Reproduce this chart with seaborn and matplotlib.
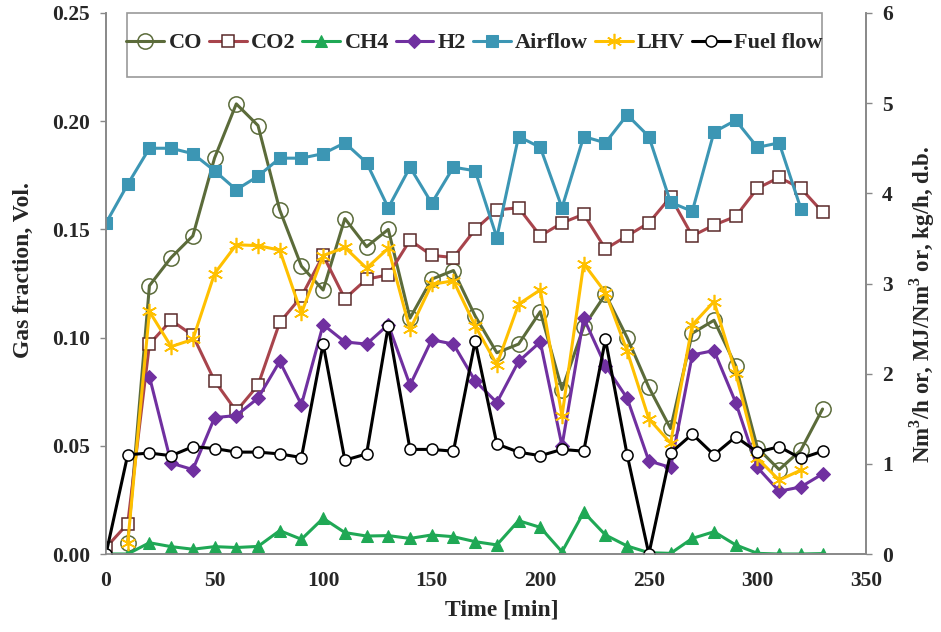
import numpy as np
import pandas as pd
import matplotlib
matplotlib.use("Agg")
import matplotlib.pyplot as plt
from matplotlib.patches import Rectangle
import seaborn as sns

nan = np.nan
time = list(range(0, 340, 10))

co = [nan, 0.005, 0.124, 0.137, 0.147, 0.183, 0.208, 0.198, 0.159, 0.133,
      0.122, 0.155, 0.142, 0.150, 0.109, 0.127, 0.131, 0.110, 0.093, 0.097,
      0.112, 0.076, 0.105, 0.120, 0.100, 0.077, 0.058, 0.102, 0.108, 0.087,
      0.049, 0.039, 0.048, 0.067]
co2 = [0.003, 0.014, 0.097, 0.108, 0.101, 0.080, 0.066, 0.078, 0.107, 0.119,
       0.138, 0.118, 0.127, 0.129, 0.145, 0.138, 0.137, 0.150, 0.159, 0.160,
       0.147, 0.153, 0.157, 0.141, 0.147, 0.153, 0.165, 0.147, 0.152, 0.156,
       0.169, 0.174, 0.169, 0.158]
ch4 = [0.000, 0.000, 0.0052, 0.0034, 0.0022, 0.0034, 0.0030, 0.0035, 0.0108, 0.0068,
       0.0165, 0.0099, 0.0083, 0.0085, 0.0072, 0.0088, 0.0080, 0.0057, 0.0042, 0.0154,
       0.0123, 0.0010, 0.0193, 0.0088, 0.0037, 0.0006, 0.0003, 0.0072, 0.0103, 0.0042,
       0.0003, 0.0000, 0.0000, 0.0002]
h2 = [nan, nan, 0.082, 0.042, 0.039, 0.063, 0.064, 0.072, 0.089, 0.069,
      0.106, 0.098, 0.097, 0.106, 0.078, 0.099, 0.097, 0.080, 0.070, 0.089,
      0.098, 0.050, 0.109, 0.087, 0.072, 0.043, 0.040, 0.092, 0.094, 0.070,
      0.040, 0.029, 0.031, 0.037]
airflow = [3.67, 4.10, 4.50, 4.50, 4.44, 4.25, 4.04, 4.19, 4.39, 4.39,
           4.44, 4.56, 4.34, 3.84, 4.29, 3.89, 4.29, 4.25, 3.51, 4.63,
           4.51, 3.84, 4.63, 4.56, 4.87, 4.63, 3.90, 3.80, 4.68, 4.81,
           4.51, 4.56, 3.83, nan]
lhv = [nan, 0.12, 2.69, 2.30, 2.38, 3.11, 3.43, 3.42, 3.37, 2.67,
       3.31, 3.40, 3.17, 3.39, 2.49, 2.99, 3.03, 2.53, 2.10, 2.77,
       2.93, 1.53, 3.22, 2.90, 2.25, 1.50, 1.23, 2.54, 2.80, 2.01,
       1.06, 0.82, 0.93, nan]
fuel = [0.00, 1.10, 1.12, 1.09, 1.19, 1.17, 1.13, 1.13, 1.11, 1.07,
        2.33, 1.04, 1.11, 2.53, 1.16, 1.16, 1.14, 2.36, 1.22, 1.13,
        1.09, 1.16, 1.14, 2.38, 1.10, 0.00, 1.12, 1.33, 1.10, 1.30,
        1.13, 1.19, 1.06, 1.14]

df = pd.DataFrame({"Time": time, "CO": co, "CO2": co2, "CH4": ch4, "H2": h2,
                   "Airflow": airflow, "LHV": lhv, "Fuel flow": fuel})

sns.set_theme(style="white")
plt.rcParams["font.family"] = ["Liberation Serif", "DejaVu Serif"]
plt.rcParams["font.weight"] = "bold"
plt.rcParams["mathtext.fontset"] = "custom"
plt.rcParams["mathtext.rm"] = "Liberation Serif:bold"
plt.rcParams["mathtext.bf"] = "Liberation Serif:bold"

fig = plt.figure(figsize=(9.41, 6.32), dpi=100)
ax = fig.add_axes([106 / 941, 1 - 554 / 632, 760 / 941, 541 / 632])
ax2 = ax.twinx()

lw = 2.2
left_specs = [
    ("CO", dict(color="#5b6b3a", marker="o", markersize=11, markerfacecolor="none",
                markeredgecolor="#5b6b3a", markeredgewidth=1.1)),
    ("CO2", dict(color="#a8444c", marker="s", markersize=8, markerfacecolor="white",
                 markeredgecolor="#5a2a2a", markeredgewidth=1.1)),
    ("CH4", dict(color="#1fa855", marker="^", markersize=8, markerfacecolor="#1fa855",
                 markeredgecolor="#1fa855")),
    ("H2", dict(color="#7030a0", marker="D", markersize=7, markerfacecolor="#7030a0",
                markeredgecolor="#7030a0")),
]
right_specs = [
    ("Airflow", dict(color="#3c96b4", marker="s", markersize=8.5, markerfacecolor="#3c96b4",
                     markeredgecolor="#3c96b4")),
    ("LHV", dict(color="#ffc000", marker=(6, 2, 0), markersize=11, markerfacecolor="#ffc000",
                 markeredgecolor="#ffc000", markeredgewidth=1.2)),
    ("Fuel flow", dict(color="black", marker="o", markersize=8, markerfacecolor="white",
                       markeredgecolor="black", markeredgewidth=1.1)),
]

handles = {}
for name, kw in left_specs:
    sub = df[["Time", name]].dropna()
    sns.lineplot(data=sub, x="Time", y=name, ax=ax, linewidth=lw, label=name, **kw)
    handles[name] = ax.lines[-1]
for name, kw in right_specs:
    sub = df[["Time", name]].dropna()
    sns.lineplot(data=sub, x="Time", y=name, ax=ax2, linewidth=lw, label=name, **kw)
    handles[name] = ax2.lines[-1]

for a in (ax, ax2):
    if a.get_legend() is not None:
        a.get_legend().remove()

ax.set_xlim(0, 350)
ax.set_ylim(0, 0.25)
ax2.set_ylim(0, 6)
ax.set_xticks(range(0, 351, 50))
ax.set_yticks([0, 0.05, 0.10, 0.15, 0.20, 0.25])
ax.set_yticklabels(["0.00", "0.05", "0.10", "0.15", "0.20", "0.25"])
ax2.set_yticks(range(0, 7))

for a in (ax, ax2):
    a.tick_params(axis="both", which="both", direction="out", length=4.5, width=1,
                  color="#888888", labelsize=15.5, pad=7)
    for lab in a.get_xticklabels() + a.get_yticklabels():
        lab.set_fontweight("bold")
    for side, sp in a.spines.items():
        sp.set_color("#888888")
        sp.set_linewidth(1.2)
    a.spines["top"].set_visible(False)
ax.tick_params(axis="x", pad=8)

ax.set_xlabel("Time [min]", fontsize=17, fontweight="bold")
ax.xaxis.set_label_coords((502 - 106) / 760, -0.084)
ax.set_ylabel("Gas fraction, Vol.", fontsize=17, fontweight="bold")
ax.yaxis.set_label_coords(-0.095, 0.525)
ax2.set_ylabel("Nm$^{3}$/h or, MJ/Nm$^{3}$ or, kg/h, d.b.", fontsize=16.5,
               fontweight="bold")
ax2.yaxis.set_label_coords(1.054, 0.462)

# legend box (wide, tall frame like the original)
box = Rectangle((127 / 941, 1 - 77 / 632), (822 - 127) / 941, 64 / 632,
                transform=fig.transFigure, facecolor="white", edgecolor="#999999",
                linewidth=1.2, zorder=4, clip_on=False)
ax2.add_patch(box)

order = ["CO", "CO2", "CH4", "H2", "Airflow", "LHV", "Fuel flow"]
leg = ax2.legend([handles[n] for n in order], order, ncol=7, loc="center",
                 bbox_to_anchor=(((127 + 822) / 2) / 941, 1 - 43 / 632),
                 bbox_transform=fig.transFigure, frameon=False,
                 prop=dict(family="Liberation Serif", weight="bold", size=16),
                 handlelength=1.7, handletextpad=0.2, columnspacing=0.3,
                 borderpad=0.0, borderaxespad=0)
leg.set_zorder(5)

fig.savefig("out.png", dpi=100)
